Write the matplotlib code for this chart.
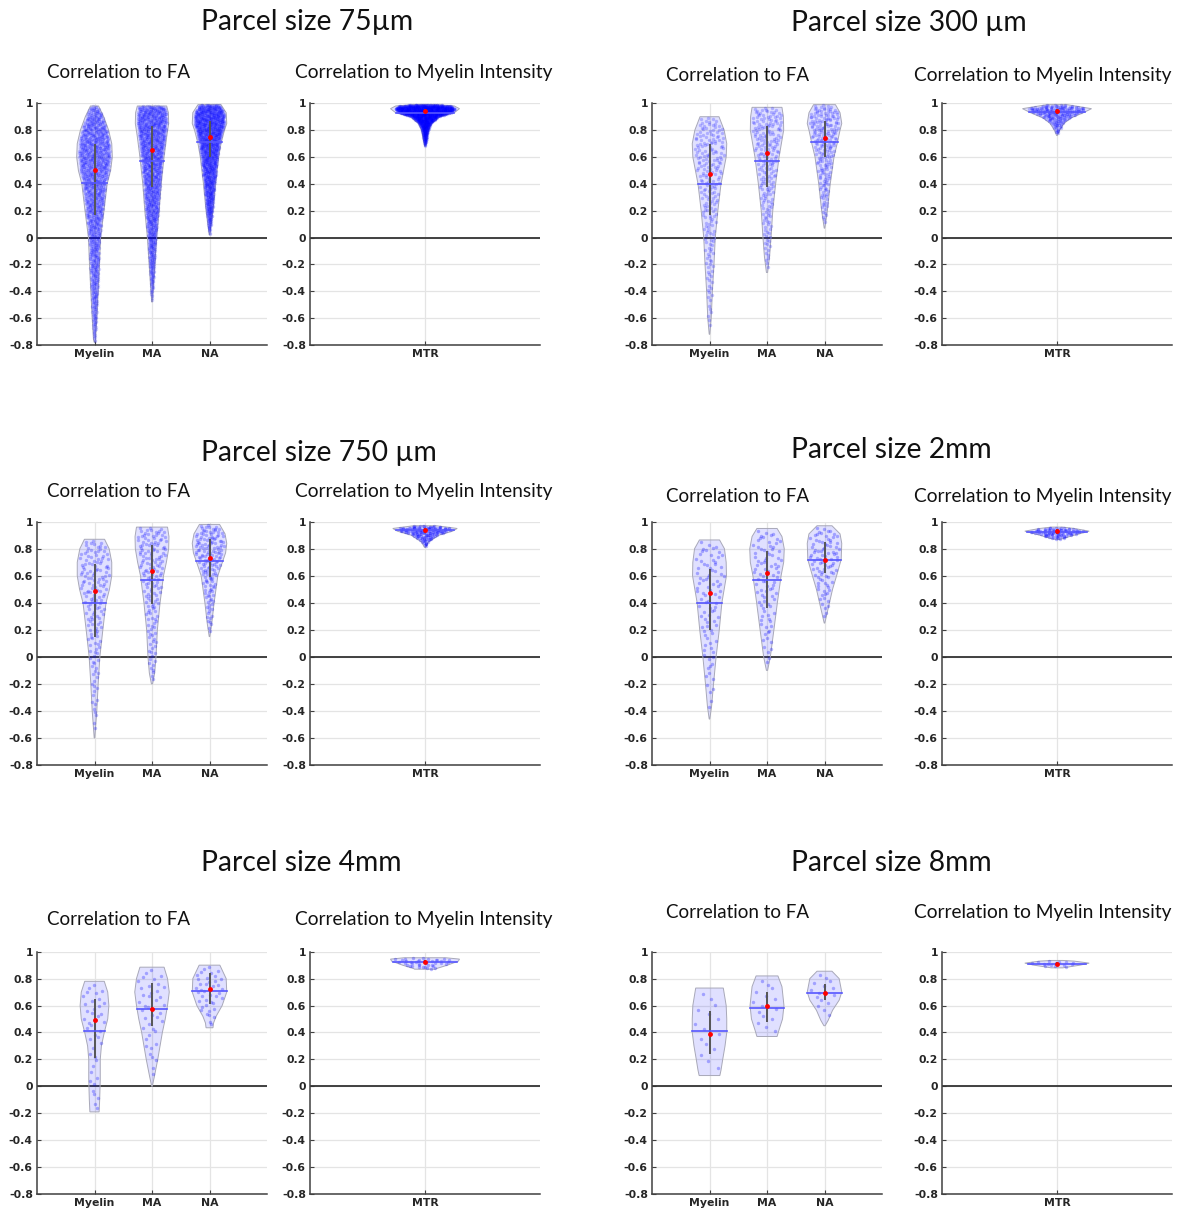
import numpy as np
import matplotlib.pyplot as plt

# ---- data ----------------------------------------------------------------
sizes = ['75', '300', '750', '2mm', '4mm', '8mm']
titles = ['Parcel size 75µm', 'Parcel size 300 µm', 'Parcel size 750 µm',
          'Parcel size 2mm', 'Parcel size 4mm', 'Parcel size 8mm']
fa_groups = ['Myelin', 'MA', 'NA']
mtr_groups = ['MTR']
n_points = [1500, 220, 160, 90, 40, 15]

# violin outlines: (correlation, half width) from bottom to top
shape_75 = {
    'Myelin': [(-0.78, 0.005), (-0.76, 0.017), (-0.6, 0.04), (-0.4, 0.064), (-0.2, 0.087), (0.0, 0.105),
               (0.2, 0.165), (0.4, 0.22), (0.5, 0.28), (0.6, 0.31), (0.7, 0.30), (0.8, 0.245),
               (0.9, 0.16), (0.98, 0.07)],
    'MA': [(-0.48, 0.005), (-0.39, 0.02), (-0.2, 0.05), (0.0, 0.08), (0.2, 0.125), (0.4, 0.16),
           (0.6, 0.21), (0.75, 0.255), (0.85, 0.29), (0.93, 0.285), (0.98, 0.255)],
    'NA': [(0.02, 0.005), (0.2, 0.06), (0.4, 0.105), (0.6, 0.16), (0.7, 0.20), (0.8, 0.26),
           (0.85, 0.30), (0.93, 0.29), (0.99, 0.2)],
    'MTR': [(0.68, 0.003), (0.73, 0.015), (0.80, 0.03), (0.85, 0.058), (0.90, 0.13), (0.93, 0.255),
            (0.96, 0.30), (0.98, 0.255), (0.99, 0.10)],
}
shape_300 = {
    'Myelin': [(-0.72, 0.005), (-0.6, 0.03), (-0.4, 0.05), (-0.2, 0.078), (0.0, 0.1), (0.2, 0.145),
               (0.4, 0.2), (0.5, 0.245), (0.6, 0.29), (0.7, 0.30), (0.8, 0.255), (0.9, 0.165)],
    'MA': [(-0.26, 0.01), (-0.14, 0.045), (0.0, 0.07), (0.2, 0.10), (0.4, 0.15), (0.6, 0.21),
           (0.7, 0.25), (0.8, 0.29), (0.9, 0.285), (0.97, 0.26)],
    'NA': [(0.07, 0.005), (0.2, 0.05), (0.4, 0.10), (0.6, 0.165), (0.7, 0.22), (0.8, 0.27),
           (0.85, 0.30), (0.93, 0.27), (0.99, 0.19)],
    'MTR': [(0.76, 0.003), (0.80, 0.023), (0.85, 0.06), (0.89, 0.12), (0.93, 0.23), (0.96, 0.30),
            (0.99, 0.087)],
}
shape_750 = {
    'Myelin': [(-0.60, 0.005), (-0.4, 0.04), (-0.2, 0.064), (0.0, 0.093), (0.2, 0.145), (0.4, 0.2),
               (0.5, 0.26), (0.6, 0.30), (0.7, 0.30), (0.8, 0.255), (0.87, 0.175)],
    'MA': [(-0.20, 0.01), (-0.12, 0.046), (0.0, 0.07), (0.2, 0.093), (0.4, 0.14), (0.6, 0.2),
           (0.7, 0.25), (0.8, 0.29), (0.89, 0.295), (0.96, 0.27)],
    'NA': [(0.15, 0.005), (0.25, 0.04), (0.4, 0.08), (0.6, 0.145), (0.67, 0.2), (0.77, 0.28),
           (0.84, 0.30), (0.91, 0.27), (0.98, 0.175)],
    'MTR': [(0.81, 0.005), (0.85, 0.03), (0.90, 0.12), (0.93, 0.24), (0.95, 0.28), (0.97, 0.10)],
}
shape_2mm = {
    'Myelin': [(-0.46, 0.005), (-0.37, 0.035), (-0.2, 0.07), (0.0, 0.115), (0.2, 0.17), (0.4, 0.215),
               (0.5, 0.255), (0.6, 0.295), (0.7, 0.29), (0.8, 0.26), (0.865, 0.175)],
    'MA': [(-0.10, 0.01), (0.0, 0.058), (0.2, 0.12), (0.4, 0.18), (0.6, 0.245), (0.7, 0.29),
           (0.8, 0.30), (0.89, 0.26), (0.95, 0.175)],
    'NA': [(0.25, 0.005), (0.37, 0.07), (0.5, 0.14), (0.6, 0.21), (0.72, 0.29), (0.84, 0.30),
           (0.91, 0.27), (0.97, 0.13)],
    'MTR': [(0.87, 0.03), (0.90, 0.15), (0.93, 0.28), (0.95, 0.15), (0.96, 0.05)],
}
shape_4mm = {
    'Myelin': [(-0.19, 0.08), (-0.10, 0.09), (0.05, 0.10), (0.2, 0.10), (0.3, 0.12), (0.4, 0.17),
               (0.5, 0.23), (0.6, 0.25), (0.7, 0.23), (0.78, 0.17)],
    'MA': [(0.0, 0.005), (0.07, 0.04), (0.2, 0.10), (0.4, 0.18), (0.5, 0.23), (0.6, 0.27),
           (0.7, 0.30), (0.8, 0.27), (0.885, 0.21)],
    'NA': [(0.435, 0.06), (0.47, 0.07), (0.52, 0.115), (0.6, 0.22), (0.7, 0.30), (0.8, 0.29),
           (0.9, 0.18)],
    'MTR': [(0.87, 0.09), (0.875, 0.10), (0.90, 0.195), (0.93, 0.29), (0.945, 0.30), (0.955, 0.18)],
}
shape_8mm = {
    'Myelin': [(0.08, 0.18), (0.12, 0.2), (0.2, 0.23), (0.3, 0.27), (0.4, 0.30), (0.5, 0.30),
               (0.6, 0.29), (0.73, 0.24)],
    'MA': [(0.37, 0.175), (0.42, 0.21), (0.5, 0.27), (0.6, 0.295), (0.74, 0.26), (0.82, 0.19)],
    'NA': [(0.45, 0.01), (0.49, 0.064), (0.565, 0.14), (0.64, 0.255), (0.70, 0.30), (0.80, 0.255),
           (0.855, 0.13)],
    'MTR': [(0.88, 0.05), (0.90, 0.2), (0.915, 0.28), (0.93, 0.15), (0.935, 0.05)],
}
shapes = [shape_75, shape_300, shape_750, shape_2mm, shape_4mm, shape_8mm]

# statistics per parcel size, order: Myelin, MA, NA, MTR
median = {'75': [0.50, 0.65, 0.75, 0.94], '300': [0.475, 0.63, 0.745, 0.94],
          '750': [0.485, 0.635, 0.735, 0.94], '2mm': [0.475, 0.62, 0.715, 0.93],
          '4mm': [0.49, 0.575, 0.72, 0.925], '8mm': [0.39, 0.595, 0.69, 0.91]}
mean = {'75': [0.41, 0.57, 0.715, 0.93], '300': [0.40, 0.57, 0.715, 0.935],
        '750': [0.395, 0.57, 0.71, 0.935], '2mm': [0.40, 0.57, 0.715, 0.925],
        '4mm': [0.41, 0.575, 0.71, 0.925], '8mm': [0.41, 0.585, 0.695, 0.91]}
q1 = {'75': [0.17, 0.38, 0.60, 0.92], '300': [0.17, 0.38, 0.60, 0.92],
      '750': [0.15, 0.39, 0.59, 0.92], '2mm': [0.20, 0.36, 0.62, 0.91],
      '4mm': [0.21, 0.45, 0.61, 0.915], '8mm': [0.24, 0.48, 0.64, 0.90]}
q3 = {'75': [0.70, 0.83, 0.87, 0.96], '300': [0.70, 0.83, 0.87, 0.96],
      '750': [0.69, 0.83, 0.87, 0.955], '2mm': [0.65, 0.78, 0.85, 0.945],
      '4mm': [0.65, 0.77, 0.84, 0.935], '8mm': [0.56, 0.70, 0.76, 0.925]}

# ---- layout (pixels) -------------------------------------------------------
W, H = 1185, 1214
row_top = [103.3, 521.7, 951.7]
row_bot = [345, 765, 1194]
fa_x = [(37, 267), (652, 882)]
mtr_x = [(310, 540), (942, 1172)]
title_pos = [(201, 30), (791, 31), (201, 461), (791, 458), (201, 871), (791, 871)]
sub_base = [78, 81, 497, 502, 925, 918]
sub_x = [(47, 295), (666, 914)]

title_font = ['Lato', 'DejaVu Sans']
fig = plt.figure(figsize=(W / 100, H / 100), dpi=100)


def add_ax(x0, x1, y0, y1):
    return fig.add_axes([x0 / W, 1 - y1 / H, (x1 - x0) / W, (y1 - y0) / H])


def vdc(n, base):
    # van der Corput sequence, used only to spread the marker texture evenly
    out = np.zeros(n)
    for i in range(n):
        k, f, r = i + 1, 1.0, 0.0
        while k:
            f /= base
            r += f * (k % base)
            k //= base
        out[i] = r
    return out


def texture(knots, n):
    # spread n markers inside the outline, density following its width
    ys_k = np.array([k[0] for k in knots])
    hw_k = np.array([k[1] for k in knots])
    yy = np.linspace(ys_k[0], ys_k[-1], 500)
    ww = np.interp(yy, ys_k, hw_k)
    cdf = np.cumsum(ww)
    cdf = (cdf - cdf[0]) / (cdf[-1] - cdf[0])
    py = np.interp(vdc(n, 2), cdf, yy)
    u = vdc(n, 3) * 2 - 1
    px = u * np.interp(py, ys_k, hw_k) * 0.88
    return px, py


def violin(ax, x, knots, med, mn, lo, hi, n, alpha):
    ys = np.array([k[0] for k in knots])
    hw = np.array([k[1] for k in knots])
    ax.fill(np.concatenate([x - hw, (x + hw)[::-1]]), np.concatenate([ys, ys[::-1]]),
            facecolor=(0, 0, 1, 0.12), edgecolor='#a8a8b8', lw=0.7, zorder=3)
    px, py = texture(knots, n)
    ax.scatter(x + px, py, s=6, color='blue', alpha=alpha, lw=0, zorder=4)
    ax.plot([x, x], [lo, hi], color='#555555', lw=1.4, zorder=5, solid_capstyle='butt')
    w = np.interp(mn, ys, hw)
    ax.plot([x - w, x + w], [mn, mn], color='#5555ff', lw=1.2, zorder=6)
    ax.plot([x], [med], 'o', color='red', ms=3.5, mec='none', zorder=7)


def style(ax, cats, xmax):
    ax.set_xlim(0, xmax)
    ax.set_ylim(-0.8, 1)
    ticks = np.round(np.arange(-0.8, 1.01, 0.2), 1)
    ax.set_yticks(ticks)
    ax.set_yticklabels(['%g' % (t + 0.0) if abs(t) > 1e-9 else '0' for t in ticks])
    ax.set_xticks(range(1, len(cats) + 1))
    ax.set_xticklabels(cats)
    ax.grid(True, color='#e4e4e4', lw=0.9, zorder=0)
    ax.set_axisbelow(True)
    ax.axhline(0, color='#333333', lw=1.3, zorder=2)
    for s in ['top', 'right']:
        ax.spines[s].set_visible(False)
    for s in ['left', 'bottom']:
        ax.spines[s].set_color('#404040')
        ax.spines[s].set_linewidth(1.1)
    ax.tick_params(direction='in', length=3, width=0.8, color='#404040',
                   labelsize=7.8, labelcolor='#262626', pad=3)
    for lab in ax.get_xticklabels() + ax.get_yticklabels():
        lab.set_fontweight('bold')


alphas = [0.16, 0.22, 0.26, 0.28, 0.28, 0.28]
for i, size in enumerate(sizes):
    row, col = i // 2, i % 2
    y0, y1 = row_top[row], row_bot[row]
    shp = shapes[i]

    ax = add_ax(*fa_x[col], y0, y1)
    style(ax, fa_groups, 4)
    for j, g in enumerate(fa_groups):
        violin(ax, j + 1, shp[g], median[size][j], mean[size][j], q1[size][j], q3[size][j],
               n_points[i], alphas[i])

    ax2 = add_ax(*mtr_x[col], y0, y1)
    style(ax2, mtr_groups, 2)
    violin(ax2, 1, shp['MTR'], median[size][3], mean[size][3], q1[size][3], q3[size][3],
           n_points[i], alphas[i])

    tx, ty = title_pos[i]
    fig.text(tx / W, 1 - ty / H, titles[i], family=title_font, fontsize=20.3,
             color='#111111', va='baseline', ha='left')
    sb = sub_base[i]
    fig.text(sub_x[col][0] / W, 1 - sb / H, 'Correlation to FA', family=title_font,
             fontsize=13.5, color='#111111', va='baseline', ha='left')
    fig.text(sub_x[col][1] / W, 1 - sb / H, 'Correlation to Myelin Intensity', family=title_font,
             fontsize=13.8, color='#111111', va='baseline', ha='left')

fig.savefig('out.png', dpi=100)
